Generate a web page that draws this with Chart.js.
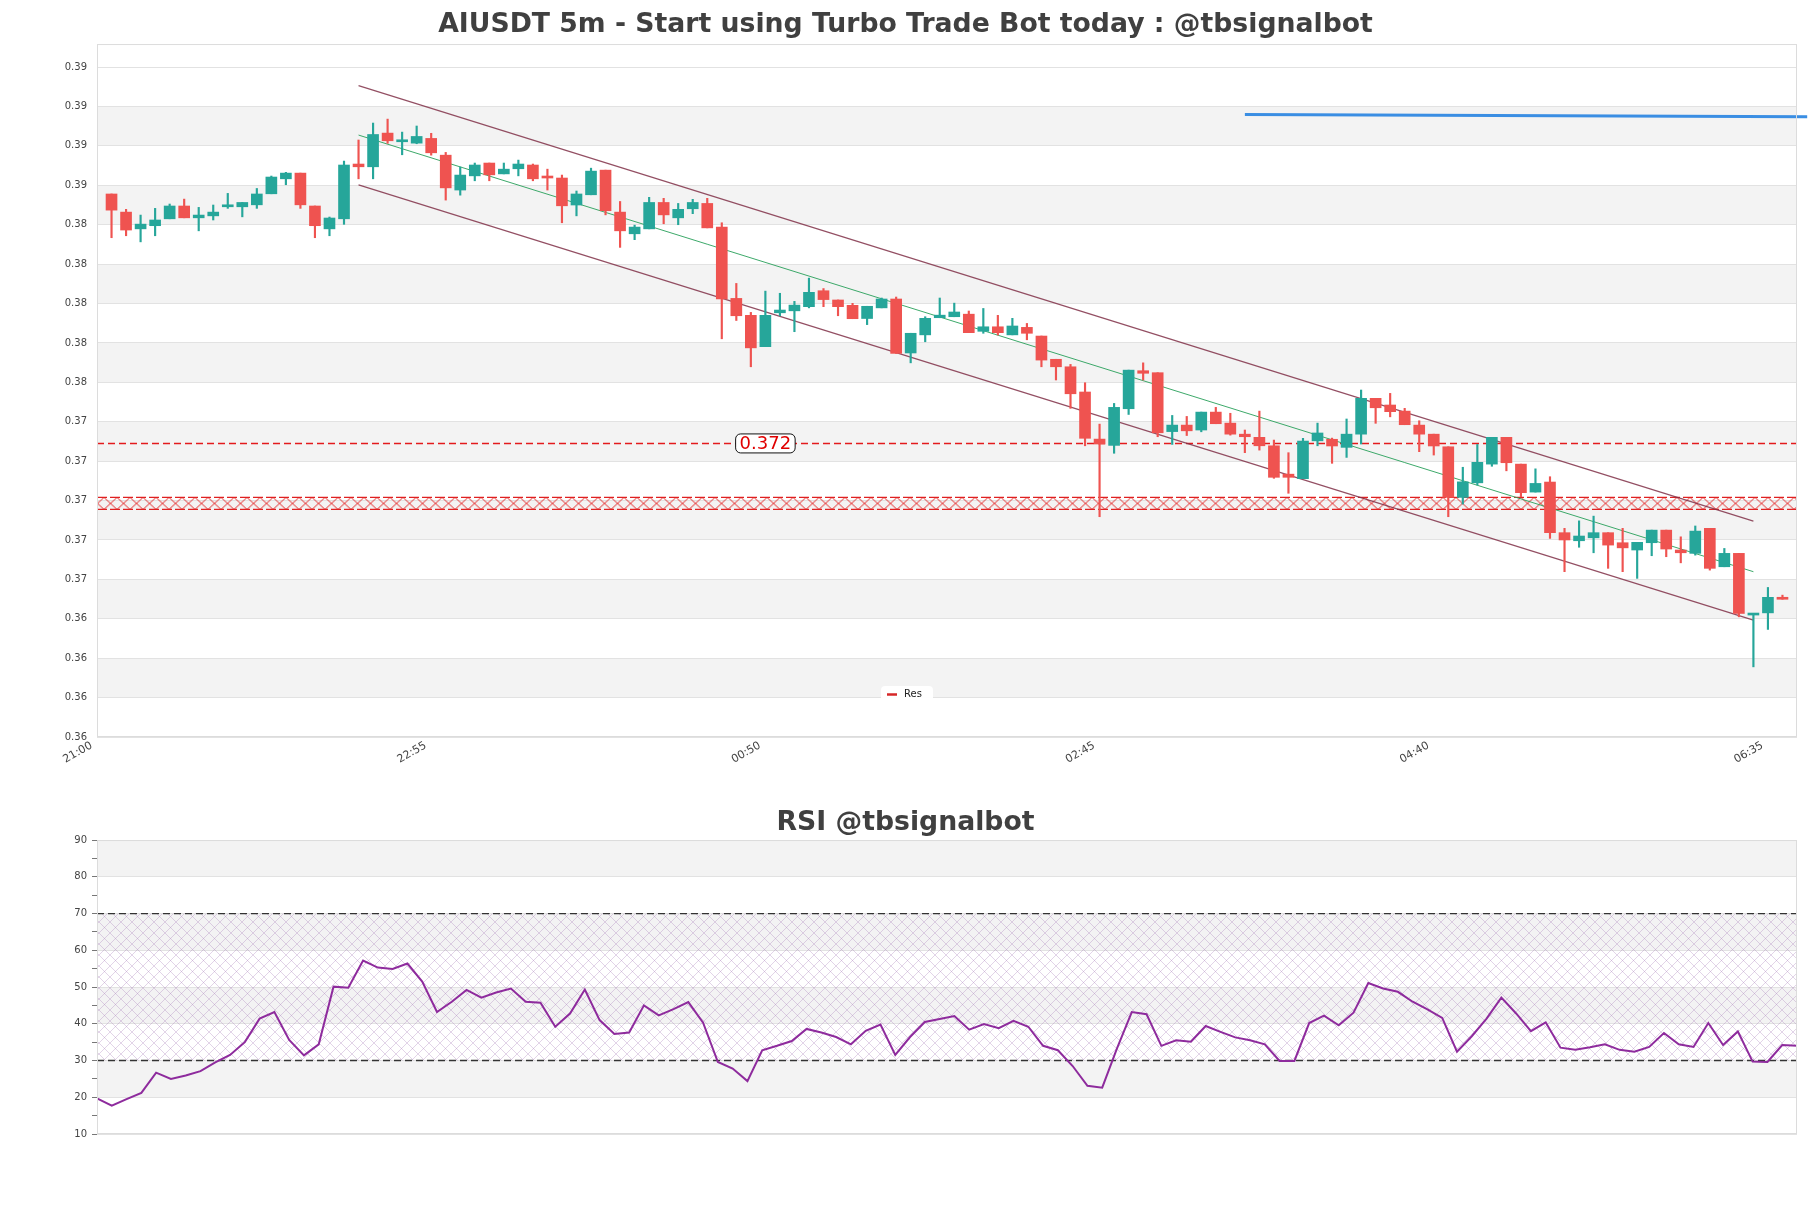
<!DOCTYPE html>
<html>
<head>
<meta charset="utf-8">
<title>AIUSDT 5m</title>
<script src="https://cdn.jsdelivr.net/npm/chart.js@4.4.1/dist/chart.umd.min.js"></script>
<style>
  html, body { margin: 0; padding: 0; background: #fff; }
  #wrap { position: relative; width: 1811px; height: 1208px; }
  canvas { position: absolute; left: 0; display: block; }
  #priceChart { top: 0; }
  #rsiChart { top: 790px; }
</style>
</head>
<body>
<div id="wrap">
  <canvas id="priceChart" width="1811" height="790"></canvas>
  <canvas id="rsiChart" width="1811" height="418"></canvas>
</div>
<script>
// 5m candles, 21:00 -> 06:35 (116 bars)
const xTickIdx = [0, 23, 46, 69, 92, 115];
const xTickLabels = ['21:00', '22:55', '00:50', '02:45', '04:40', '06:35'];
const yTickVals = [0.3571, 0.3591, 0.3611, 0.3631, 0.3651, 0.3671, 0.3691, 0.3711, 0.3731,
                   0.3751, 0.3771, 0.3791, 0.3811, 0.3831, 0.3851, 0.3871, 0.3891, 0.3911];
const priceMax = 0.39227;

const open = [
  0.38466, 0.38374, 0.38289, 0.38305, 0.38340, 0.38405, 0.38345, 0.38355, 0.38401, 0.38401,
  0.38411, 0.38467, 0.38543, 0.38572, 0.38405, 0.38289, 0.38340, 0.38618, 0.38604, 0.38775,
  0.38731, 0.38724, 0.38748, 0.38663, 0.38486, 0.38558, 0.38623, 0.38568, 0.38594, 0.38613,
  0.38552, 0.38547, 0.38410, 0.38462, 0.38587, 0.38374, 0.38264, 0.38289, 0.38423, 0.38345,
  0.38391, 0.38418, 0.38298, 0.37936, 0.37850, 0.37691, 0.37863, 0.37873, 0.37894, 0.37975,
  0.37928, 0.37901, 0.37834, 0.37888, 0.37933, 0.37659, 0.37751, 0.37838, 0.37843, 0.37856,
  0.37769, 0.37792, 0.37751, 0.37789, 0.37745, 0.37627, 0.37589, 0.37461, 0.37222, 0.37190,
  0.37376, 0.37569, 0.37559, 0.37260, 0.37293, 0.37268, 0.37359, 0.37303, 0.37247, 0.37231,
  0.37188, 0.37044, 0.37021, 0.37213, 0.37221, 0.37180, 0.37247, 0.37429, 0.37395, 0.37364,
  0.37293, 0.37247, 0.37183, 0.36926, 0.37000, 0.37095, 0.37231, 0.37095, 0.36953, 0.37004,
  0.36747, 0.36706, 0.36721, 0.36747, 0.36696, 0.36659, 0.36696, 0.36760, 0.36659, 0.36642,
  0.36769, 0.36574, 0.36642, 0.36329, 0.36340, 0.36419
];
const high = [
  0.38466, 0.38388, 0.38359, 0.38393, 0.38415, 0.38440, 0.38398, 0.38410, 0.38469, 0.38423,
  0.38494, 0.38557, 0.38576, 0.38572, 0.38405, 0.38349, 0.38633, 0.38740, 0.38826, 0.38846,
  0.38780, 0.38811, 0.38774, 0.38677, 0.38603, 0.38623, 0.38623, 0.38623, 0.38638, 0.38618,
  0.38592, 0.38562, 0.38481, 0.38597, 0.38587, 0.38428, 0.38308, 0.38449, 0.38444, 0.38418,
  0.38439, 0.38444, 0.38320, 0.38012, 0.37865, 0.37973, 0.37962, 0.37921, 0.38039, 0.37986,
  0.37928, 0.37911, 0.37896, 0.37938, 0.37943, 0.37759, 0.37843, 0.37938, 0.37912, 0.37872,
  0.37885, 0.37850, 0.37835, 0.37809, 0.37745, 0.37627, 0.37601, 0.37508, 0.37298, 0.37403,
  0.37572, 0.37609, 0.37559, 0.37342, 0.37337, 0.37359, 0.37383, 0.37353, 0.37268, 0.37364,
  0.37217, 0.37153, 0.37226, 0.37303, 0.37227, 0.37324, 0.37471, 0.37429, 0.37454, 0.37378,
  0.37315, 0.37247, 0.37183, 0.37079, 0.37195, 0.37231, 0.37231, 0.37095, 0.37071, 0.37031,
  0.36769, 0.36807, 0.36831, 0.36747, 0.36769, 0.36698, 0.36760, 0.36760, 0.36726, 0.36781,
  0.36769, 0.36667, 0.36642, 0.36337, 0.36469, 0.36430
];
const low = [
  0.38244, 0.38254, 0.38223, 0.38254, 0.38340, 0.38345, 0.38279, 0.38334, 0.38393, 0.38350,
  0.38393, 0.38467, 0.38513, 0.38393, 0.38244, 0.38254, 0.38312, 0.38543, 0.38543, 0.38723,
  0.38665, 0.38721, 0.38663, 0.38435, 0.38460, 0.38533, 0.38533, 0.38568, 0.38558, 0.38533,
  0.38486, 0.38320, 0.38355, 0.38462, 0.38360, 0.38195, 0.38234, 0.38289, 0.38315, 0.38310,
  0.38366, 0.38294, 0.37731, 0.37824, 0.37589, 0.37691, 0.37848, 0.37767, 0.37888, 0.37894,
  0.37848, 0.37833, 0.37803, 0.37888, 0.37657, 0.37609, 0.37716, 0.37838, 0.37843, 0.37762,
  0.37759, 0.37750, 0.37751, 0.37726, 0.37589, 0.37522, 0.37378, 0.37188, 0.36828, 0.37150,
  0.37347, 0.37522, 0.37234, 0.37195, 0.37240, 0.37259, 0.37300, 0.37242, 0.37153, 0.37166,
  0.37023, 0.36947, 0.37021, 0.37188, 0.37099, 0.37129, 0.37197, 0.37302, 0.37335, 0.37295,
  0.37158, 0.37141, 0.36828, 0.36892, 0.36989, 0.37084, 0.37061, 0.36929, 0.36953, 0.36718,
  0.36549, 0.36673, 0.36645, 0.36566, 0.36549, 0.36515, 0.36630, 0.36625, 0.36594, 0.36633,
  0.36557, 0.36574, 0.36320, 0.36066, 0.36256, 0.36409
];
const close = [
  0.38384, 0.38283, 0.38313, 0.38334, 0.38405, 0.38345, 0.38359, 0.38374, 0.38405, 0.38423,
  0.38466, 0.38552, 0.38572, 0.38411, 0.38305, 0.38344, 0.38613, 0.38604, 0.38768, 0.38736,
  0.38736, 0.38758, 0.38675, 0.38497, 0.38562, 0.38613, 0.38563, 0.38592, 0.38618, 0.38543,
  0.38547, 0.38406, 0.38466, 0.38582, 0.38381, 0.38279, 0.38298, 0.38423, 0.38360, 0.38388,
  0.38423, 0.38294, 0.37934, 0.37848, 0.37685, 0.37850, 0.37877, 0.37902, 0.37967, 0.37930,
  0.37894, 0.37833, 0.37896, 0.37933, 0.37657, 0.37759, 0.37835, 0.37851, 0.37867, 0.37762,
  0.37792, 0.37762, 0.37796, 0.37759, 0.37623, 0.37589, 0.37452, 0.37226, 0.37197, 0.37383,
  0.37572, 0.37556, 0.37254, 0.37293, 0.37264, 0.37359, 0.37300, 0.37247, 0.37234, 0.37188,
  0.37028, 0.37028, 0.37212, 0.37253, 0.37187, 0.37247, 0.37429, 0.37381, 0.37361, 0.37295,
  0.37247, 0.37187, 0.36926, 0.37005, 0.37104, 0.37231, 0.37102, 0.36950, 0.36997, 0.36747,
  0.36710, 0.36730, 0.36747, 0.36684, 0.36670, 0.36698, 0.36760, 0.36664, 0.36645, 0.36755,
  0.36566, 0.36642, 0.36337, 0.36337, 0.36419, 0.36409
];

// drawn levels
const channelX = [17, 113];
const channelUpper = [0.39016, 0.36806];
const channelMid = [0.38765, 0.36549];
const channelLower = [0.38512, 0.36303];
const trendX = [78, 116.7];
const trendY = [0.38869, 0.38858];
const resLevel = 0.372;
const resLabelAt = 45;
const zoneHigh = 0.36926;
const zoneLow = 0.36865;
const spanX = [-1, 116];

// RSI
const rsi = [
  19.7, 17.7, 19.5, 21.2, 26.7, 25.0, 25.9, 27.1, 29.5, 31.5,
  35.0, 41.4, 43.2, 35.6, 31.4, 34.4, 50.1, 49.8, 57.2, 55.3,
  54.9, 56.4, 51.5, 43.2, 46.0, 49.2, 47.1, 48.5, 49.6, 46.0,
  45.7, 39.2, 42.8, 49.3, 41.0, 37.2, 37.6, 45.0, 42.3, 44.0,
  45.9, 40.3, 29.6, 27.8, 24.4, 32.8, 34.0, 35.3, 38.6, 37.6,
  36.4, 34.4, 38.1, 39.8, 31.5, 36.4, 40.5, 41.3, 42.1, 38.4,
  39.9, 38.8, 40.8, 39.2, 34.0, 32.8, 28.5, 23.1, 22.6, 33.3,
  43.2, 42.6, 34.0, 35.5, 35.1, 39.4, 37.8, 36.3, 35.5, 34.4,
  29.9, 29.9, 40.2, 42.2, 39.6, 43.0, 51.1, 49.6, 48.7, 46.0,
  43.9, 41.6, 32.4, 36.6, 41.4, 47.1, 42.8, 38.0, 40.4, 33.5,
  32.9, 33.6, 34.4, 32.9, 32.4, 33.7, 37.5, 34.4, 33.7, 40.2,
  34.2, 37.9, 29.7, 29.6, 34.2, 34.0
];
const rsiTicks = [10, 20, 30, 40, 50, 60, 70, 80, 90];
const rsiLevels = [70, 30];

const UP = '#26a69a';
const DOWN = '#ef5350';

Chart.defaults.font.family = "'DejaVu Sans', sans-serif";

function makeHatch(w, h, color, lw) {
    const c = document.createElement('canvas');
    c.width = w; c.height = h;
    const g = c.getContext('2d');
    g.strokeStyle = color;
    g.lineWidth = lw;
    g.beginPath();
    g.moveTo(0, 0); g.lineTo(w, h);
    g.moveTo(w, 0); g.lineTo(0, h);
    g.stroke();
    return g.createPattern(c, 'repeat');
}

const zonePattern = makeHatch(13, 12, 'rgba(226,30,30,0.95)', 1);
const rsiPattern = makeHatch(11, 11, 'rgba(165,120,185,0.32)', 1);

// alternating bands between ticks + frame round the plot
const bandsPlugin = {
    id: 'bands',
    beforeDraw(chart, args, opts) {
        const { ctx, chartArea: a, scales: { y } } = chart;
        const vals = opts.values;
        ctx.save();
        ctx.fillStyle = opts.color;
        for (let k = 1; k + 1 < vals.length; k += 2) {
            const y0 = y.getPixelForValue(vals[k]);
            const y1 = y.getPixelForValue(vals[k + 1]);
            ctx.fillRect(a.left, Math.min(y0, y1), a.right - a.left, Math.abs(y1 - y0));
        }
        ctx.restore();
    },
    afterDraw(chart, args, opts) {
        const { ctx, chartArea: a } = chart;
        ctx.save();
        ctx.strokeStyle = opts.border;
        ctx.lineWidth = 1;
        ctx.strokeRect(a.left + 0.5, a.top + 0.5, a.right - a.left - 1, a.bottom - a.top - 1);
        ctx.restore();
    }
};

// price tag on the Res line, hatch alignment, small legend
const priceExtras = {
    id: 'priceExtras',
    beforeDatasetsDraw(chart) {
        const y = chart.scales.y;
        zonePattern.setTransform(new DOMMatrix().translate(0, y.getPixelForValue(zoneHigh)));
    },
    afterDatasetsDraw(chart) {
        const { ctx, scales: { x, y }, chartArea: a } = chart;
        const px = x.getPixelForValue(resLabelAt);
        const py = y.getPixelForValue(resLevel);
        const txt = resLevel.toFixed(3);
        ctx.save();
        ctx.font = "18px 'DejaVu Sans'";
        const w = ctx.measureText(txt).width + 8;
        const h = 19;
        ctx.beginPath();
        ctx.roundRect(px - w / 2, py - h / 2, w, h, 5);
        ctx.fillStyle = '#fff';
        ctx.fill();
        ctx.lineWidth = 1;
        ctx.strokeStyle = '#111';
        ctx.stroke();
        ctx.fillStyle = '#e00000';
        ctx.textAlign = 'center';
        ctx.textBaseline = 'middle';
        ctx.fillText(txt, px, py + 1);

        // legend
        const lx = a.left + 784, ly = a.bottom - 51;
        ctx.beginPath();
        ctx.roundRect(lx, ly, 52, 16, 4);
        ctx.fillStyle = 'rgba(255,255,255,0.95)';
        ctx.fill();
        ctx.strokeStyle = '#d62728';
        ctx.lineWidth = 2.5;
        ctx.beginPath();
        ctx.moveTo(lx + 6, ly + 8.5);
        ctx.lineTo(lx + 16, ly + 8.5);
        ctx.stroke();
        ctx.font = "10px 'DejaVu Sans'";
        ctx.fillStyle = '#222';
        ctx.textAlign = 'left';
        ctx.fillText('Res', lx + 23, ly + 8);
        ctx.restore();
    }
};

const pts = (xs, ys) => xs.map((x, i) => ({ x: x, y: ys[i] }));
const candleColors = open.map((o, i) => close[i] >= o ? UP : DOWN);

new Chart(document.getElementById('priceChart'), {
    type: 'bar',
    data: {
        datasets: [
            {
                type: 'line', label: 'trend',
                data: pts(trendX, trendY),
                borderColor: '#3a8ee3', borderWidth: 3, pointRadius: 0,
                clip: false, order: 0
            },
            {
                label: 'bodies',
                data: open.map((o, i) => ({ x: i, y: [o, close[i]] })),
                backgroundColor: candleColors, borderWidth: 0,
                grouped: false, barPercentage: 1, categoryPercentage: 1,
                maxBarThickness: 11, minBarLength: 2, order: 1
            },
            {
                label: 'wicks',
                data: low.map((l, i) => ({ x: i, y: [l, high[i]] })),
                backgroundColor: candleColors, borderWidth: 0,
                grouped: false, barPercentage: 1, categoryPercentage: 1,
                maxBarThickness: 1.5, order: 2
            },
            {
                type: 'line', label: 'upper',
                data: pts(channelX, channelUpper),
                borderColor: 'rgba(128,48,72,0.85)', borderWidth: 1.2, pointRadius: 0, order: 3
            },
            {
                type: 'line', label: 'mid',
                data: pts(channelX, channelMid),
                borderColor: 'rgba(40,160,90,0.9)', borderWidth: 1, pointRadius: 0, order: 3
            },
            {
                type: 'line', label: 'lower',
                data: pts(channelX, channelLower),
                borderColor: 'rgba(128,48,72,0.85)', borderWidth: 1.2, pointRadius: 0, order: 3
            },
            {
                type: 'line', label: 'Res',
                data: pts(spanX, [resLevel, resLevel]),
                borderColor: '#e31a1c', borderWidth: 1.5, borderDash: [7, 4], pointRadius: 0, order: 4
            },
            {
                type: 'line', label: 'zoneHigh',
                data: pts(spanX, [zoneHigh, zoneHigh]),
                borderColor: '#e02020', borderWidth: 1.2, borderDash: [10, 3], pointRadius: 0, order: 5
            },
            {
                type: 'line', label: 'zoneLow',
                data: pts(spanX, [zoneLow, zoneLow]),
                borderColor: '#e02020', borderWidth: 1.2, borderDash: [10, 3], pointRadius: 0,
                fill: '-1', backgroundColor: zonePattern, order: 6
            }
        ]
    },
    options: {
        responsive: false,
        animation: false,
        events: [],
        layout: { padding: { top: 0, right: 14, bottom: 0, left: 14 } },
        plugins: {
            legend: { display: false },
            tooltip: { enabled: false },
            title: {
                display: true,
                text: 'AIUSDT 5m - Start using Turbo Trade Bot today : @tbsignalbot',
                color: '#404040',
                font: { size: 26.7, weight: 'bold' },
                padding: { top: 9.5, bottom: 2.5 }
            },
            bands: { values: yTickVals, color: '#f3f3f3', border: '#dcdcdc' }
        },
        scales: {
            x: {
                type: 'linear', min: spanX[0], max: spanX[1], offset: false,
                grid: { display: false, drawTicks: false },
                border: { display: false },
                afterBuildTicks: (s) => { s.ticks = xTickIdx.map(v => ({ value: v })); },
                afterFit: (s) => { s.height = 53; },
                ticks: {
                    autoSkip: false, minRotation: 30, maxRotation: 30, padding: 2,
                    labelOffset: -20,
                    color: '#444', font: { size: 11 },
                    callback: (v, i) => xTickLabels[i]
                }
            },
            y: {
                min: yTickVals[0], max: priceMax,
                afterBuildTicks: (s) => { s.ticks = yTickVals.map(v => ({ value: v })); },
                afterFit: (s) => { s.width = 83; },
                grid: { color: '#e2e2e2', drawTicks: false },
                border: { display: false },
                ticks: {
                    padding: 10, color: '#444', font: { size: 10 },
                    callback: (v) => v.toFixed(2)
                }
            }
        }
    },
    plugins: [bandsPlugin, priceExtras]
});

new Chart(document.getElementById('rsiChart'), {
    type: 'line',
    data: {
        datasets: [
            {
                label: 'RSI',
                data: rsi.map((v, i) => ({ x: i, y: v })),
                borderColor: '#8e2b9d', borderWidth: 2, pointRadius: 0, tension: 0, order: 0
            },
            {
                label: 'ob',
                data: pts([0, rsi.length - 1], [rsiLevels[0], rsiLevels[0]]),
                borderColor: '#333', borderWidth: 1.3, borderDash: [7, 4], pointRadius: 0, order: 1
            },
            {
                label: 'os',
                data: pts([0, rsi.length - 1], [rsiLevels[1], rsiLevels[1]]),
                borderColor: '#333', borderWidth: 1.3, borderDash: [7, 4], pointRadius: 0,
                fill: '-1', backgroundColor: rsiPattern, order: 2
            }
        ]
    },
    options: {
        responsive: false,
        animation: false,
        events: [],
        layout: { padding: { top: 0, right: 14, bottom: 74, left: 14 } },
        plugins: {
            legend: { display: false },
            tooltip: { enabled: false },
            title: {
                display: true,
                text: 'RSI @tbsignalbot',
                color: '#404040',
                font: { size: 26.7, weight: 'bold' },
                padding: { top: 16.7, bottom: 1.3 }
            },
            bands: { values: rsiTicks, color: '#f3f3f3', border: '#dcdcdc' }
        },
        scales: {
            x: { type: 'linear', display: false, min: 0, max: rsi.length - 1, offset: false },
            y: {
                min: rsiTicks[0], max: rsiTicks[rsiTicks.length - 1],
                afterFit: (s) => { s.width = 83; },
                border: { display: false },
                grid: {
                    color: (c) => (c.tick && c.tick.value % 10 === 0) ? '#e2e2e2' : 'rgba(0,0,0,0)',
                    tickColor: '#777', tickLength: 5
                },
                ticks: {
                    stepSize: 5, autoSkip: false, padding: 5, color: '#444', font: { size: 10 },
                    callback: (v) => v % 10 === 0 ? v : ''
                }
            }
        }
    },
    plugins: [bandsPlugin]
});
</script>
</body>
</html>
